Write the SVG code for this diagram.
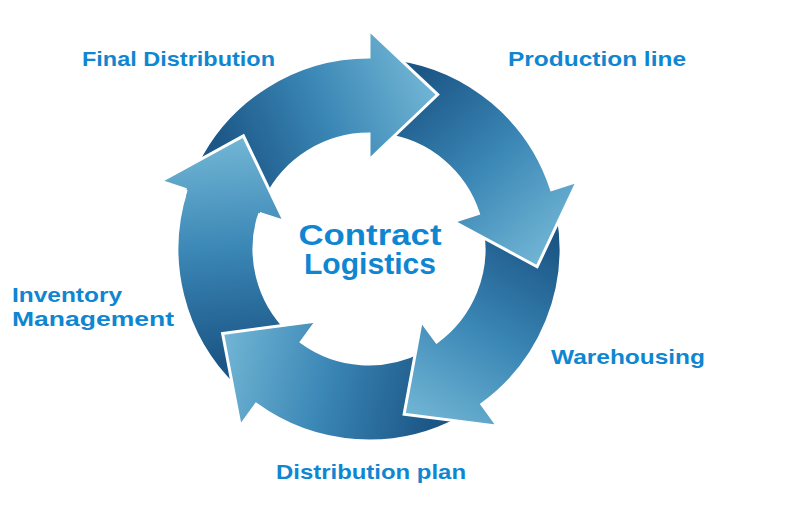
<svg xmlns="http://www.w3.org/2000/svg" width="800" height="513" viewBox="0 0 800 513">
  <style>
    .arrow { stroke: #ffffff; stroke-width: 3; stroke-linejoin: miter; }
    .edge { fill: none; stroke: #ffffff; stroke-width: 3; stroke-linejoin: miter; }
    .lbl { font-family: "Liberation Sans", Arial, sans-serif; font-weight: bold; font-size: 21px; fill: #0f86d1; }
    .center { font-family: "Liberation Sans", Arial, sans-serif; font-weight: bold; font-size: 29px; fill: #0f86d1; }
  </style>
  <defs>
    <linearGradient id="g0" gradientUnits="userSpaceOnUse" x1="231.5" y1="181.9" x2="437.7" y2="94.6">
      <stop offset="0" stop-color="#1b5686"/><stop offset="0.5" stop-color="#3a86b5"/><stop offset="1" stop-color="#72b6d5"/>
    </linearGradient>
    <linearGradient id="g1" gradientUnits="userSpaceOnUse" x1="390.3" y1="97.5" x2="537.1" y2="266.7">
      <stop offset="0" stop-color="#1b5686"/><stop offset="0.5" stop-color="#3a86b5"/><stop offset="1" stop-color="#72b6d5"/>
    </linearGradient>
    <linearGradient id="g2" gradientUnits="userSpaceOnUse" x1="519.7" y1="222.4" x2="404.1" y2="414.3">
      <stop offset="0" stop-color="#1b5686"/><stop offset="0.5" stop-color="#3a86b5"/><stop offset="1" stop-color="#72b6d5"/>
    </linearGradient>
    <linearGradient id="g3" gradientUnits="userSpaceOnUse" x1="440.8" y1="384.1" x2="222.6" y2="333.5">
      <stop offset="0" stop-color="#1b5686"/><stop offset="0.5" stop-color="#3a86b5"/><stop offset="1" stop-color="#72b6d5"/>
    </linearGradient>
    <linearGradient id="g4" gradientUnits="userSpaceOnUse" x1="262.7" y1="359.1" x2="243.4" y2="135.9">
      <stop offset="0" stop-color="#1b5686"/><stop offset="0.5" stop-color="#3a86b5"/><stop offset="1" stop-color="#72b6d5"/>
    </linearGradient>
  </defs>

  <g id="connectors">
    <g id="arrow-inventory-to-final">
      <path class="arrow" fill="url(#g4)" d="M235.6,387.1 A192,192 0 0 1 186.4,189.7 L160.7,181.3 L243.4,135.9 L284.4,221.5 L259.6,213.5 A115,115 0 0 0 289.1,331.7 Z"/>
    </g>
    <g id="arrow-plan-to-inventory">
      <path class="arrow" fill="url(#g3)" d="M459.1,418.5 A192,192 0 0 1 256.1,404.3 L240.3,426.2 L222.6,333.5 L316.7,321.0 L301.4,342.0 A115,115 0 0 0 423.0,350.5 Z"/>
    </g>
    <g id="arrow-warehousing-to-plan">
      <path class="arrow" fill="url(#g2)" d="M558.1,215.7 A192,192 0 0 1 481.9,404.3 L497.7,426.2 L404.1,414.3 L421.3,321.0 L436.6,342.0 A115,115 0 0 0 482.3,229.0 Z"/>
    </g>
    <g id="arrow-production-to-warehousing">
      <path class="arrow" fill="url(#g1)" d="M395.7,58.9 A192,192 0 0 1 551.6,189.7 L577.3,181.3 L537.1,266.7 L453.6,221.5 L478.4,213.5 A115,115 0 0 0 385.0,135.1 Z"/>
    </g>
    <g id="arrow-final-to-production">
      <path class="arrow" fill="url(#g0)" d="M196.4,164.8 A192,192 0 0 1 369,57 L369,30 L437.7,94.6 L369,160 L369,134 A115,115 0 0 0 265.6,198.6 Z"/>
    </g>
    <g id="arrow-inventory-to-final-head">
      <path fill="url(#g4)" d="M185.9,196.5 A190.5,190.5 0 0 1 187.8,190.1 L186.4,189.7 L160.7,181.3 L243.4,135.9 L284.4,221.5 L259.6,213.5 L258.2,213.0 A116.5,116.5 0 0 0 257.0,216.9 Z"/>
      <path class="edge" d="M186.4,189.7 L160.7,181.3 L243.4,135.9 L284.4,221.5 L259.6,213.5"/>
    </g>
  </g>

  <g id="node-center">
    <text class="center" x="370" y="245" text-anchor="middle" textLength="143" lengthAdjust="spacingAndGlyphs">Contract</text>
    <text class="center" x="370" y="274" text-anchor="middle" textLength="132" lengthAdjust="spacingAndGlyphs">Logistics</text>
  </g>
  <g id="node-final-distribution">
    <text class="lbl" x="82" y="66" textLength="193" lengthAdjust="spacingAndGlyphs">Final Distribution</text>
  </g>
  <g id="node-production-line">
    <text class="lbl" x="508" y="66" textLength="178" lengthAdjust="spacingAndGlyphs">Production line</text>
  </g>
  <g id="node-warehousing">
    <text class="lbl" x="551" y="364" textLength="154" lengthAdjust="spacingAndGlyphs">Warehousing</text>
  </g>
  <g id="node-distribution-plan">
    <text class="lbl" x="276" y="479" textLength="190" lengthAdjust="spacingAndGlyphs">Distribution plan</text>
  </g>
  <g id="node-inventory-management">
    <text class="lbl" x="12" y="302" textLength="110" lengthAdjust="spacingAndGlyphs">Inventory</text>
    <text class="lbl" x="12" y="326" textLength="162" lengthAdjust="spacingAndGlyphs">Management</text>
  </g>
</svg>
